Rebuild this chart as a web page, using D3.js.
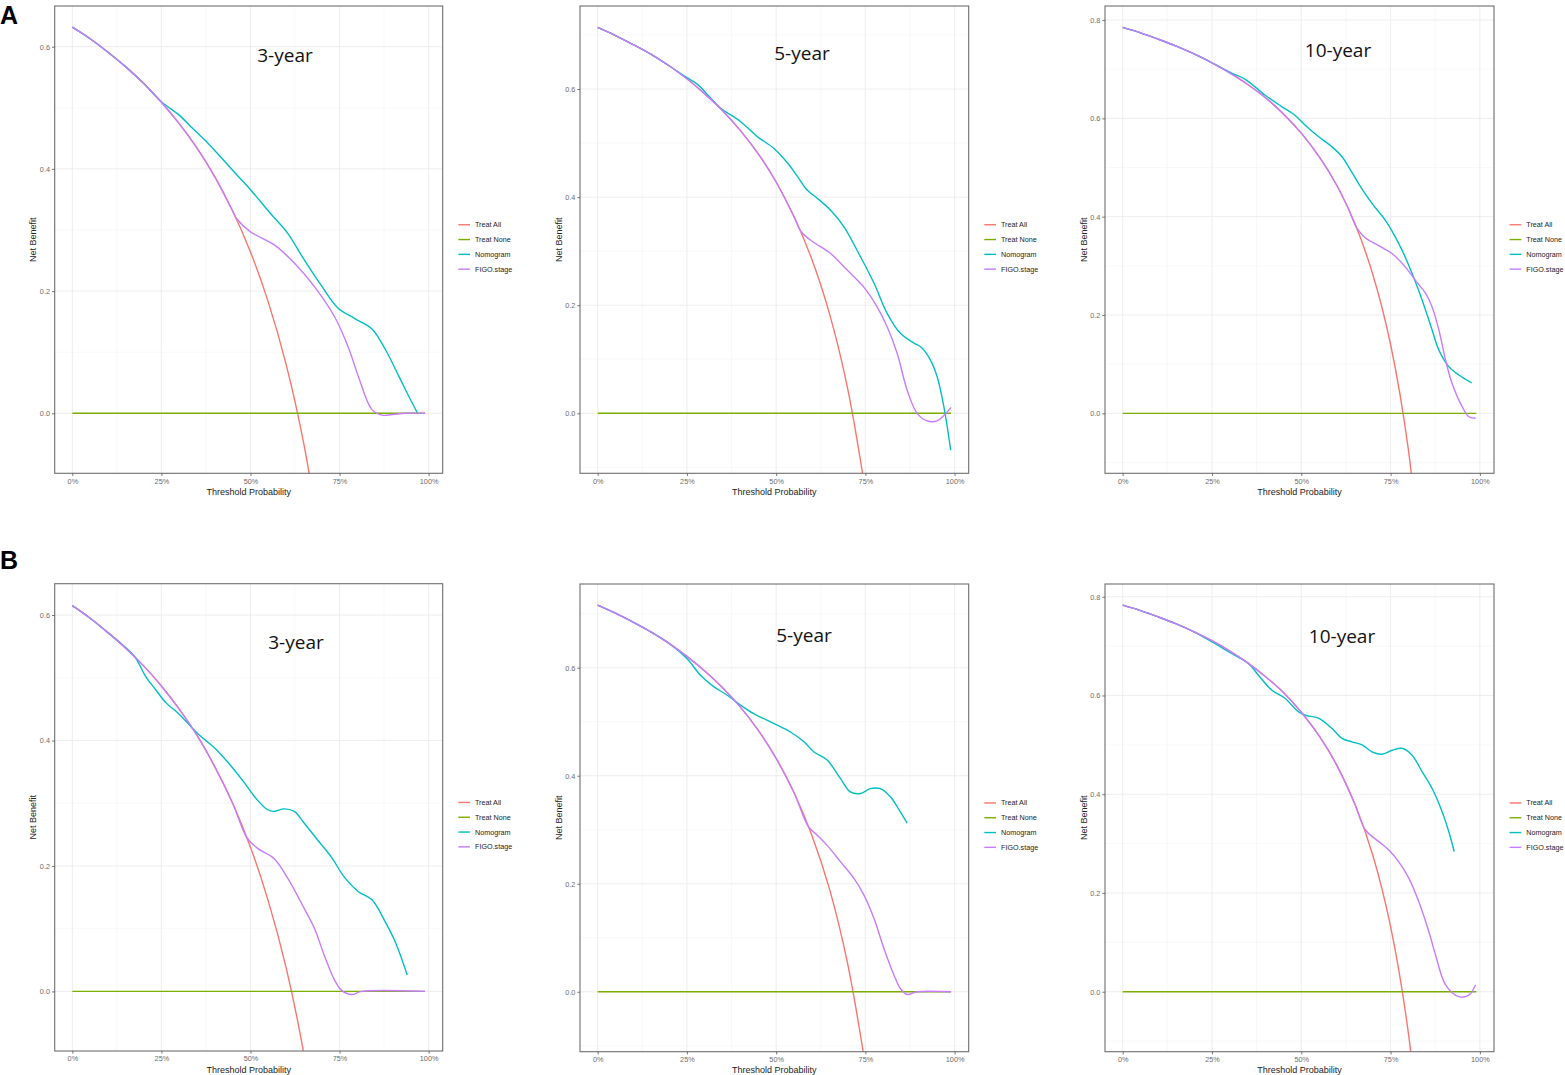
<!DOCTYPE html>
<html><head><meta charset="utf-8">
<script src="https://cdn.jsdelivr.net/npm/d3@7"></script>
<style>body{margin:0;background:#fff}svg{display:block}</style>
</head><body>
<svg id="chart" width="1565" height="1075"></svg>
<script>
// ---------- shared labels ----------
const seriesNames = ["Treat All", "Treat None", "Nomogram", "FIGO.stage"];
const seriesColors = ["#F8766D", "#7CAE00", "#00BFC4", "#C77CFF"];
const xTickValues = [0, 0.25, 0.5, 0.75, 1];
const xTickLabels = ["0%", "25%", "50%", "75%", "100%"];
const yTicks3and5 = [0, 0.2, 0.4, 0.6];
const yTicks10 = [0, 0.2, 0.4, 0.6, 0.8];
const panelTitles = ["3-year", "5-year", "10-year", "3-year", "5-year", "10-year"];
const rowLabels = ["A", "B"];
const treatNone = [[0, 0], [0.99, 0]];

// ---------- A, 3-year ----------
const treatAll_A3y = [[0,0.632],[0.05,0.613],[0.1,0.591],[0.15,0.567],[0.2,0.540],[0.25,0.509],[0.3,0.474],[0.35,0.434],[0.4,0.387],[0.45,0.331],[0.5,0.264],[0.55,0.182],[0.6,0.080],[0.65,-0.051],[0.7,-0.227]];
const nomogram_A3y = [[0,0.632],[0.05,0.613],[0.1,0.591],[0.15,0.567],[0.2,0.540],[0.25,0.510],[0.3,0.488],[0.338,0.466],[0.376,0.445],[0.414,0.421],[0.462,0.390],[0.5,0.366],[0.556,0.327],[0.604,0.295],[0.651,0.251],[0.7,0.208],[0.746,0.172],[0.793,0.155],[0.841,0.138],[0.879,0.104],[0.917,0.060],[0.945,0.027],[0.969,0]];
const figo_A3y = [[0,0.632],[0.05,0.613],[0.1,0.591],[0.15,0.567],[0.2,0.540],[0.25,0.509],[0.3,0.474],[0.35,0.434],[0.4,0.387],[0.45,0.331],[0.462,0.318],[0.5,0.297],[0.566,0.276],[0.623,0.246],[0.68,0.207],[0.736,0.158],[0.774,0.109],[0.803,0.060],[0.841,0.006],[0.869,-0.003],[0.898,-0.002],[0.935,0],[0.99,0]];

// ---------- A, 5-year ----------
const treatAll_A5y = [[0,0.714],[0.05,0.699],[0.1,0.682],[0.15,0.664],[0.2,0.643],[0.25,0.619],[0.3,0.591],[0.35,0.560],[0.4,0.523],[0.45,0.480],[0.5,0.428],[0.55,0.364],[0.6,0.285],[0.65,0.183],[0.7,0.047],[0.75,-0.144]];
const nomogram_A5y = [[0,0.714],[0.05,0.699],[0.1,0.682],[0.15,0.664],[0.2,0.643],[0.25,0.621],[0.279,0.609],[0.31,0.588],[0.344,0.565],[0.4,0.540],[0.447,0.512],[0.494,0.490],[0.532,0.463],[0.56,0.438],[0.587,0.413],[0.615,0.398],[0.652,0.376],[0.69,0.345],[0.736,0.290],[0.774,0.241],[0.811,0.185],[0.848,0.148],[0.886,0.130],[0.905,0.123],[0.932,0.099],[0.951,0.068],[0.97,0.012],[0.989,-0.068]];
const figo_A5y = [[0,0.714],[0.05,0.699],[0.1,0.682],[0.15,0.664],[0.2,0.643],[0.25,0.619],[0.3,0.591],[0.35,0.560],[0.4,0.523],[0.45,0.480],[0.5,0.428],[0.55,0.364],[0.57,0.336],[0.606,0.316],[0.652,0.296],[0.699,0.265],[0.745,0.234],[0.783,0.197],[0.811,0.160],[0.839,0.111],[0.867,0.043],[0.895,0.0],[0.923,-0.014],[0.951,-0.014],[0.97,-0.004],[0.99,0.011]];

// ---------- A, 10-year ----------
const treatAll_A10y = [[0,0.785],[0.05,0.774],[0.1,0.761],[0.15,0.747],[0.2,0.731],[0.25,0.713],[0.3,0.693],[0.35,0.669],[0.4,0.642],[0.45,0.609],[0.5,0.570],[0.55,0.522],[0.6,0.463],[0.65,0.386],[0.7,0.283],[0.75,0.140],[0.8,-0.075],[0.85,-0.433]];
const nomogram_A10y = [[0,0.785],[0.05,0.774],[0.1,0.761],[0.15,0.747],[0.2,0.731],[0.25,0.713],[0.305,0.692],[0.342,0.680],[0.399,0.647],[0.445,0.624],[0.483,0.606],[0.511,0.586],[0.548,0.563],[0.586,0.542],[0.614,0.522],[0.632,0.502],[0.66,0.468],[0.698,0.427],[0.735,0.393],[0.763,0.359],[0.782,0.332],[0.81,0.285],[0.838,0.231],[0.866,0.170],[0.885,0.129],[0.913,0.095],[0.941,0.078],[0.977,0.062]];
const figo_A10y = [[0,0.785],[0.05,0.774],[0.1,0.761],[0.15,0.747],[0.2,0.731],[0.25,0.713],[0.3,0.692],[0.35,0.669],[0.4,0.642],[0.45,0.609],[0.5,0.570],[0.55,0.522],[0.6,0.463],[0.632,0.416],[0.655,0.378],[0.679,0.357],[0.717,0.341],[0.754,0.325],[0.791,0.298],[0.819,0.271],[0.848,0.244],[0.866,0.217],[0.885,0.170],[0.904,0.108],[0.922,0.061],[0.95,0.014],[0.969,-0.007],[0.988,-0.010]];

// ---------- B, 3-year ----------
const treatAll_B3y = [[0,0.615],[0.05,0.595],[0.1,0.572],[0.15,0.547],[0.2,0.519],[0.25,0.487],[0.3,0.450],[0.35,0.408],[0.4,0.358],[0.45,0.300],[0.5,0.230],[0.55,0.144],[0.6,0.038],[0.65,-0.100],[0.7,-0.283]];
const nomogram_B3y = [[0,0.615],[0.05,0.595],[0.1,0.572],[0.14,0.553],[0.177,0.532],[0.206,0.502],[0.234,0.481],[0.263,0.460],[0.3,0.442],[0.348,0.413],[0.405,0.385],[0.443,0.361],[0.481,0.334],[0.518,0.306],[0.547,0.290],[0.566,0.287],[0.594,0.291],[0.623,0.287],[0.651,0.268],[0.689,0.241],[0.727,0.214],[0.765,0.181],[0.803,0.159],[0.841,0.146],[0.879,0.110],[0.907,0.078],[0.94,0.026]];
const figo_B3y = [[0,0.615],[0.05,0.595],[0.1,0.572],[0.15,0.547],[0.2,0.519],[0.25,0.487],[0.3,0.450],[0.35,0.408],[0.4,0.358],[0.45,0.300],[0.49,0.245],[0.52,0.228],[0.566,0.212],[0.604,0.181],[0.651,0.132],[0.68,0.100],[0.708,0.056],[0.736,0.018],[0.755,0.002],[0.784,-0.005],[0.812,0],[0.99,0]];

// ---------- B, 5-year ----------
const treatAll_B5y = [[0,0.716],[0.05,0.701],[0.1,0.684],[0.15,0.666],[0.2,0.645],[0.25,0.621],[0.3,0.594],[0.35,0.563],[0.4,0.527],[0.45,0.484],[0.5,0.432],[0.55,0.369],[0.6,0.290],[0.65,0.189],[0.7,0.053],[0.75,-0.136]];
const nomogram_B5y = [[0,0.716],[0.05,0.701],[0.1,0.684],[0.15,0.666],[0.2,0.645],[0.25,0.617],[0.288,0.586],[0.325,0.565],[0.363,0.549],[0.4,0.531],[0.437,0.515],[0.493,0.497],[0.54,0.481],[0.578,0.463],[0.606,0.444],[0.643,0.429],[0.68,0.395],[0.708,0.370],[0.736,0.367],[0.764,0.376],[0.792,0.376],[0.82,0.361],[0.848,0.333],[0.867,0.312]];
const figo_B5y = [[0,0.716],[0.05,0.701],[0.1,0.684],[0.15,0.666],[0.2,0.645],[0.25,0.621],[0.3,0.594],[0.35,0.563],[0.4,0.527],[0.45,0.484],[0.5,0.432],[0.55,0.369],[0.59,0.306],[0.615,0.290],[0.643,0.271],[0.68,0.241],[0.718,0.210],[0.746,0.179],[0.774,0.136],[0.802,0.080],[0.83,0.031],[0.848,0.006],[0.867,-0.005],[0.895,0],[0.99,0]];

// ---------- B, 10-year ----------
const treatAll_B10y = [[0,0.783],[0.05,0.772],[0.1,0.759],[0.15,0.745],[0.2,0.729],[0.25,0.711],[0.3,0.690],[0.35,0.666],[0.4,0.638],[0.45,0.606],[0.5,0.566],[0.55,0.518],[0.6,0.458],[0.65,0.380],[0.7,0.277],[0.75,0.132],[0.8,-0.085],[0.85,-0.447]];
const nomogram_B10y = [[0,0.783],[0.05,0.772],[0.1,0.759],[0.15,0.745],[0.2,0.729],[0.249,0.709],[0.305,0.685],[0.352,0.665],[0.38,0.641],[0.417,0.611],[0.455,0.594],[0.492,0.567],[0.511,0.560],[0.548,0.554],[0.586,0.533],[0.614,0.513],[0.642,0.506],[0.67,0.500],[0.698,0.486],[0.726,0.481],[0.754,0.489],[0.782,0.493],[0.81,0.479],[0.838,0.446],[0.866,0.412],[0.894,0.365],[0.913,0.324],[0.928,0.284]];
const figo_B10y = [[0,0.783],[0.05,0.772],[0.1,0.759],[0.15,0.745],[0.2,0.729],[0.25,0.711],[0.3,0.690],[0.35,0.666],[0.4,0.638],[0.45,0.606],[0.5,0.566],[0.55,0.518],[0.6,0.458],[0.65,0.380],[0.679,0.328],[0.717,0.304],[0.745,0.287],[0.773,0.263],[0.801,0.230],[0.829,0.182],[0.857,0.122],[0.876,0.074],[0.904,0.014],[0.941,-0.010],[0.969,-0.007],[0.988,0.014]];

// ---------- assemble (layout kept separate from data) ----------
const panelSeries = [
  [treatAll_A3y, treatNone, nomogram_A3y, figo_A3y],
  [treatAll_A5y, treatNone, nomogram_A5y, figo_A5y],
  [treatAll_A10y, treatNone, nomogram_A10y, figo_A10y],
  [treatAll_B3y, treatNone, nomogram_B3y, figo_B3y],
  [treatAll_B5y, treatNone, nomogram_B5y, figo_B5y],
  [treatAll_B10y, treatNone, nomogram_B10y, figo_B10y]
];
const panelYTicks = [yTicks3and5, yTicks3and5, yTicks10, yTicks3and5, yTicks3and5, yTicks10];

const layout = [
  {box:[54.7, 6, 442.7, 473.3],   yDom:[-0.0982, 0.6666], title:[285, 62]},
  {box:[580, 6, 968.7, 473.3],    yDom:[-0.111, 0.7536],  title:[802, 59.5]},
  {box:[1105, 6, 1494, 473.3],    yDom:[-0.122, 0.8286],  title:[1338, 57]},
  {box:[54.7, 583.7, 442.7, 1051],yDom:[-0.095, 0.650],   title:[296, 649]},
  {box:[580, 584, 968.7, 1051.7], yDom:[-0.111, 0.755],   title:[804, 642]},
  {box:[1105, 584, 1494, 1051.7], yDom:[-0.1215, 0.8258], title:[1342, 643]}
];
const xDom = [-0.0495, 1.0395];
const labelPos = [[0, 24], [1, 569]];

const svg = d3.select("#chart");
svg.append("rect").attr("width",1565).attr("height",1075).attr("fill","#fff");
const FONT = "'Liberation Sans', Arial, sans-serif";

layout.forEach((L, i) => {
  const [x0, y0, x1, y1] = L.box;
  const x = d3.scaleLinear().domain(xDom).range([x0, x1]);
  const y = d3.scaleLinear().domain(L.yDom).range([y1, y0]);
  const g = svg.append("g");
  const clipId = "clip" + i;
  svg.append("clipPath").attr("id", clipId).append("rect")
    .attr("x", x0).attr("y", y0).attr("width", x1 - x0).attr("height", y1 - y0);

  const yt = panelYTicks[i];
  const step = yt[1] - yt[0];
  const yMinor = d3.range(-1, yt.length + 1).map(k => yt[0] + (k + 0.5) * step)
    .filter(v => v > L.yDom[0] && v < L.yDom[1]);
  const xMinor = xTickValues.slice(0, -1).map((v, k) => (v + xTickValues[k + 1]) / 2);
  const grid = g.append("g");
  grid.selectAll(".ym").data(yMinor).join("line")
    .attr("x1", x0).attr("x2", x1).attr("y1", d => y(d)).attr("y2", d => y(d))
    .attr("stroke", "#f4f4f4").attr("stroke-width", 0.6);
  grid.selectAll(".xm").data(xMinor).join("line")
    .attr("y1", y0).attr("y2", y1).attr("x1", d => x(d)).attr("x2", d => x(d))
    .attr("stroke", "#f4f4f4").attr("stroke-width", 0.6);
  grid.selectAll(".yM").data(yt).join("line")
    .attr("x1", x0).attr("x2", x1).attr("y1", d => y(d)).attr("y2", d => y(d))
    .attr("stroke", "#ebebeb").attr("stroke-width", 0.9);
  grid.selectAll(".xM").data(xTickValues).join("line")
    .attr("y1", y0).attr("y2", y1).attr("x1", d => x(d)).attr("x2", d => x(d))
    .attr("stroke", "#ebebeb").attr("stroke-width", 0.9);

  const lineGen = d3.line().x(d => x(d[0])).y(d => y(d[1])).curve(d3.curveCatmullRom.alpha(0.5));
  const lg = g.append("g").attr("clip-path", `url(#${clipId})`);
  panelSeries[i].forEach((s, k) => {
    lg.append("path").datum(s).attr("d", lineGen)
      .attr("fill", "none").attr("stroke", seriesColors[k])
      .attr("stroke-width", 1.4).attr("stroke-linejoin", "round").attr("stroke-linecap", "butt");
  });

  g.append("rect").attr("x", x0).attr("y", y0).attr("width", x1 - x0).attr("height", y1 - y0)
    .attr("fill", "none").attr("stroke", "#6e6e6e").attr("stroke-width", 1.1);

  const xAxis = d3.axisBottom(x).tickValues(xTickValues).tickFormat((d, k) => xTickLabels[k])
    .tickSize(2.7).tickPadding(2.5);
  const ax = g.append("g").attr("transform", `translate(0,${y1})`).call(xAxis);
  const yAxis = d3.axisLeft(y).tickValues(yt).tickFormat(d3.format(".1f")).tickSize(2.7).tickPadding(2);
  const ay = g.append("g").attr("transform", `translate(${x0},0)`).call(yAxis);
  [ax, ay].forEach(a => {
    a.select(".domain").remove();
    a.selectAll(".tick line").attr("stroke", "#555").attr("stroke-width", 0.8);
    a.selectAll(".tick text").attr("fill", "#6b6b6b").style("font-family", FONT).style("font-size", "7.3px");
  });

  g.append("text").attr("x", (x0 + x1) / 2).attr("y", y1 + 21.5).attr("text-anchor", "middle")
    .style("font-family", FONT).style("font-size", "9px").attr("fill", "#222").text("Threshold Probability");
  g.append("text").attr("transform", `translate(${x0 - 18.5},${(y0 + y1) / 2}) rotate(-90)`)
    .attr("text-anchor", "middle").style("font-family", FONT).style("font-size", "9px")
    .attr("fill", "#222").text("Net Benefit");

  g.append("text").attr("x", L.title[0]).attr("y", L.title[1]).attr("text-anchor", "middle")
    .style("font-family", "'Open Sans', 'Noto Sans', sans-serif").style("font-size", "19px")
    .attr("fill", "#111").text(panelTitles[i]);

  const legY = (y0 + y1) / 2 + 7.3 - 1.5 * 14.8;
  const leg = g.append("g");
  seriesNames.forEach((n, k) => {
    const yy = legY + k * 14.8;
    leg.append("line").attr("x1", x1 + 15.6).attr("x2", x1 + 27.3).attr("y1", yy).attr("y2", yy)
      .attr("stroke", seriesColors[k]).attr("stroke-width", 1.4);
    leg.append("text").attr("x", x1 + 32.3).attr("y", yy).attr("dy", "0.35em")
      .style("font-family", FONT).style("font-size", "7.2px").attr("fill", "#222").text(n);
  });
});

labelPos.forEach(([r, yy]) => {
  svg.append("text").attr("x", 0).attr("y", yy)
    .style("font-family", FONT).style("font-size", "25px").style("font-weight", "bold")
    .attr("fill", "#000").text(rowLabels[r]);
});
</script>
</body></html>
